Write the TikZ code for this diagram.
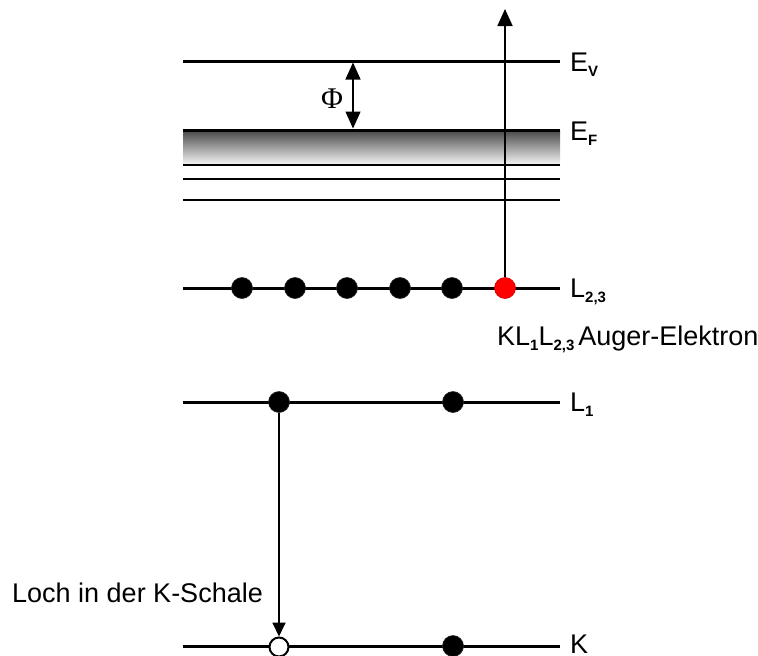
\documentclass[tikz,border=0pt]{standalone}
\usepackage{fontspec}
\setmainfont{Liberation Sans}
\newfontfamily\phifont{Liberation Serif}
\usetikzlibrary{arrows.meta}
% bold, lowered index used in level names
\newcommand\lvsub[1]{\raisebox{-5pt}{\fontsize{15}{15}\selectfont\bfseries #1}}

\begin{document}
\begin{tikzpicture}[x=1pt,y=-1pt,
  level/.style={line width=3pt},
  sublevel/.style={line width=2.6pt},
  electron/.style={circle,fill=black,draw=black!85,line width=0.6pt,minimum size=21pt,inner sep=0pt},
  auger/.style={electron,fill=red,draw=red!80!black},
  hole/.style={circle,fill=white,draw=black,line width=2pt,minimum size=19pt,inner sep=0pt},
  lbl/.style={anchor=base west,inner sep=0pt,font=\fontsize{27}{31}\selectfont},
  transition/.style={line width=1.8pt},
]
\useasboundingbox (0,0) rectangle (758,656);

% energy level end points
\coordinate (evL) at (183,61);   \coordinate (evR) at (560,61);
\coordinate (efL) at (183,130);  \coordinate (efR) at (560,130);
\coordinate (b1L) at (183,165);  \coordinate (b1R) at (560,165);
\coordinate (b2L) at (183,179);  \coordinate (b2R) at (560,179);
\coordinate (b3L) at (183,200);  \coordinate (b3R) at (560,200);
\coordinate (l23L) at (183,288); \coordinate (l23R) at (560,288);
\coordinate (l1L) at (183,402);  \coordinate (l1R) at (560,402);
\coordinate (kL) at (183,646);   \coordinate (kR) at (560,646);

% occupied band below the Fermi level
\shade[top color=black!72, bottom color=black!3] (183,130) rectangle (560,165);

% levels
\draw[level] (evL) -- (evR);
\draw[level] (efL) -- (efR);
\draw[sublevel] (b1L) -- (b1R);
\draw[sublevel] (b2L) -- (b2R);
\draw[sublevel] (b3L) -- (b3R);
\draw[level] (l23L) -- (l23R);
\draw[level] (l1L) -- (l1R);
\draw[level] (kL) -- (kR);

% level names
\node[lbl] (ev)  at (570,71)  {E\lvsub{V}};
\node[lbl] (ef)  at (570,140) {E\lvsub{F}};
\node[lbl] (l23) at (570,297.5) {L\lvsub{2,3}};
\node[lbl] (l1)  at (570,411.5) {L\lvsub{1}};
\node[lbl] (k)   at (570,653.5) {K};

% work function
\coordinate (phiT) at (353,62.5);
\coordinate (phiB) at (353,128.5);
\draw[line width=1.4pt,{Triangle[length=17pt,width=15pt]}-{Triangle[length=17pt,width=15pt]}] (phiT) -- (phiB);
\node (phi) at (332,99) {\phifont\fontsize{30}{30}\selectfont Φ};

% electrons
\node[electron] (e1) at (242,288) {};
\node[electron] (e2) at (295,288) {};
\node[electron] (e3) at (347,288) {};
\node[electron] (e4) at (400,288) {};
\node[electron] (e5) at (452,288) {};
\node[auger]    (ea) at (505,288) {};
\node[electron] (la) at (279,402) {};
\node[electron] (lb) at (453,402) {};
\node[hole]     (kh) at (279,647) {};
\node[electron] (kb) at (453,646) {};

% emitted Auger electron
\coordinate (top) at (505,9);
\draw[transition,-{Triangle[length=17pt,width=15pt]}] (ea.north) -- (top);

% L1 electron filling the K hole
\draw[transition,-{Triangle[length=14pt,width=13pt]}] (la.south) -- (kh.north);

% captions
\node[lbl] (auglbl) at (497,345) {KL\lvsub{1}L\lvsub{2,3}\hspace{4pt}Auger-Elektron};
\node[lbl] (hole)   at (12,602)  {Loch in der K-Schale};
\end{tikzpicture}
\end{document}
